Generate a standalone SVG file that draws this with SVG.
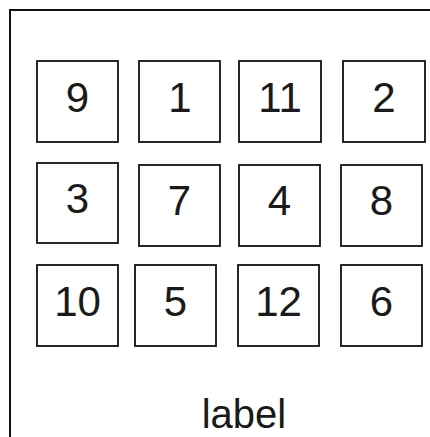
<svg xmlns="http://www.w3.org/2000/svg" width="430" height="437" viewBox="0 0 430 437">
<style>
.frame{fill:none;stroke:#111111;stroke-width:2}
.box{fill:#ffffff;stroke:#111111;stroke-width:1.8}
.t{font-family:"Liberation Sans",Arial,sans-serif;font-size:42px;fill:#1a1a1a;text-anchor:middle}
.lbl{font-size:40px}
</style>
<rect width="430" height="437" fill="#ffffff"/>
<g id="container">
<path class="frame" d="M10,440 V10 H440"/>
<text class="t lbl" x="244" y="428">label</text>
</g>
<g id="n9"><rect class="box" x="37" y="61" width="81" height="81"/><text class="t" x="77.5" y="112">9</text></g>
<g id="n1"><rect class="box" x="139" y="61" width="81" height="81"/><text class="t" x="180" y="112">1</text></g>
<g id="n11"><rect class="box" x="239" y="61" width="82" height="81"/><text class="t" x="280" y="112">11</text></g>
<g id="n2"><rect class="box" x="343" y="61" width="82" height="81"/><text class="t" x="384" y="112">2</text></g>
<g id="n3"><rect class="box" x="37" y="163" width="81" height="80"/><text class="t" x="77.5" y="213">3</text></g>
<g id="n7"><rect class="box" x="139" y="165" width="81" height="81"/><text class="t" x="179.5" y="215">7</text></g>
<g id="n4"><rect class="box" x="239" y="165" width="81" height="81"/><text class="t" x="279.5" y="215">4</text></g>
<g id="n8"><rect class="box" x="341" y="165" width="81" height="81"/><text class="t" x="381.5" y="215">8</text></g>
<g id="n10"><rect class="box" x="37" y="265" width="81" height="81"/><text class="t" x="77.5" y="316">10</text></g>
<g id="n5"><rect class="box" x="135" y="265" width="81" height="81"/><text class="t" x="175.5" y="316">5</text></g>
<g id="n12"><rect class="box" x="238" y="265" width="81" height="81"/><text class="t" x="278.5" y="316">12</text></g>
<g id="n6"><rect class="box" x="341" y="265" width="81" height="81"/><text class="t" x="381.5" y="316">6</text></g>
<g id="connectors"></g>
</svg>
